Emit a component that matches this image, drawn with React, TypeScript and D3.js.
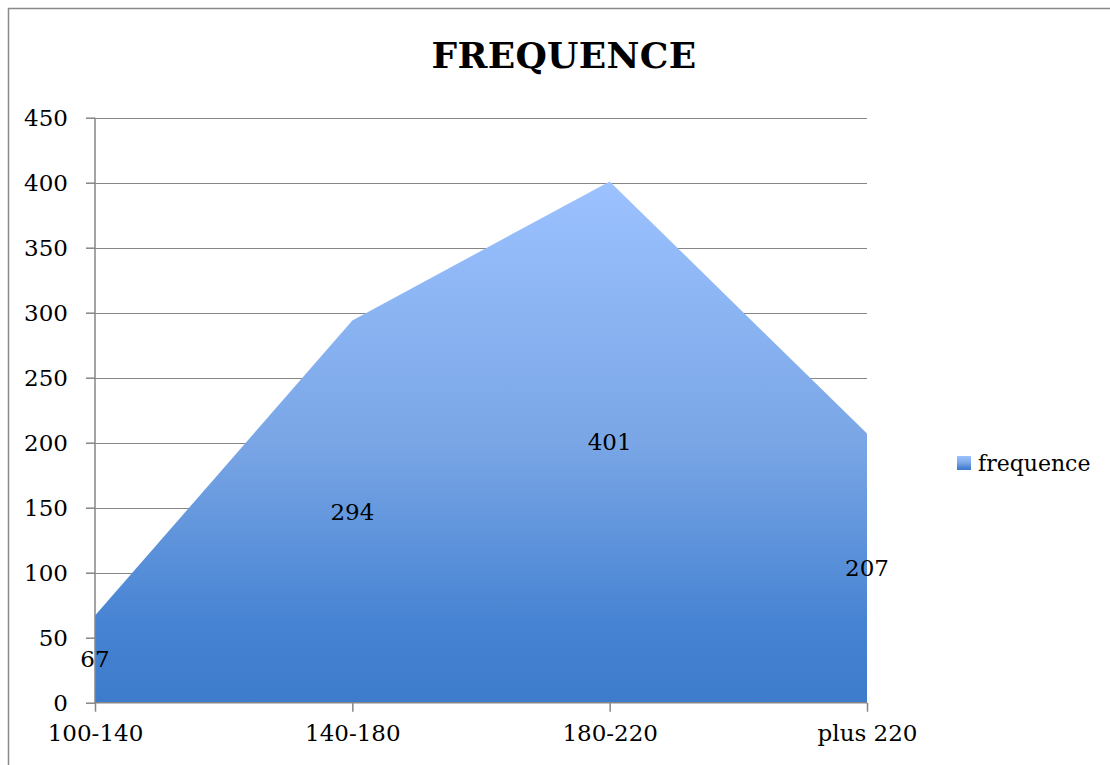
import React, { useEffect, useRef } from 'react';
import * as d3 from 'd3';

const categories = ['100-140', '140-180', '180-220', 'plus 220'];
const values = [67, 294, 401, 207];
const yTicks = [0, 50, 100, 150, 200, 250, 300, 350, 400, 450];
const seriesName = 'frequence';
const chartTitle = 'FREQUENCE';

export default function App() {
  const svgRef = useRef<SVGSVGElement>(null);

  useEffect(() => {
    const svg = d3.select(svgRef.current);
    svg.selectAll('*').remove();

    const W = 1110;
    const H = 765;
    const left = 95;
    const right = 867;
    const top = 117.7;
    const bottom = 702.7;
    const font = '"DejaVu Serif", Cambria, serif';

    svg.attr('width', W).attr('height', H);

    // dégradé de la zone
    const defs = svg.append('defs');
    const grad = defs
      .append('linearGradient')
      .attr('id', 'areaGrad')
      .attr('x1', 0)
      .attr('y1', 0)
      .attr('x2', 0)
      .attr('y2', 1);
    grad.append('stop').attr('offset', '0%').attr('stop-color', '#9cc2ff');
    grad.append('stop').attr('offset', '50%').attr('stop-color', '#7aa6e6');
    grad.append('stop').attr('offset', '85%').attr('stop-color', '#4683d2');
    grad.append('stop').attr('offset', '100%').attr('stop-color', '#3d7bcb');

    // cadre
    svg
      .append('rect')
      .attr('x', 8.5)
      .attr('y', 8.5)
      .attr('width', W + 40)
      .attr('height', H + 40)
      .attr('fill', 'white')
      .attr('stroke', '#8a8a8a')
      .attr('stroke-width', 1.5);

    const x = d3
      .scalePoint<string>()
      .domain(categories)
      .range([left, right]);

    const y = d3.scaleLinear().domain([0, 450]).range([bottom, top]);

    // grille
    svg
      .append('g')
      .selectAll('line')
      .data(yTicks.filter(d => d > 0))
      .enter()
      .append('line')
      .attr('x1', left)
      .attr('x2', right)
      .attr('y1', d => Math.round(y(d)) + 0.5)
      .attr('y2', d => Math.round(y(d)) + 0.5)
      .attr('stroke', '#868686')
      .attr('stroke-width', 1.2);

    // zone
    const area = d3
      .area<number>()
      .x((_, i) => x(categories[i]) as number)
      .y0(y(0))
      .y1(d => y(d));

    svg
      .append('path')
      .datum(values)
      .attr('d', area)
      .attr('fill', 'url(#areaGrad)');

    // axes
    const yAxis = svg
      .append('g')
      .attr('transform', `translate(${left},0)`)
      .call(
        d3
          .axisLeft(y)
          .tickValues(yTicks)
          .tickSize(9)
          .tickPadding(18)
          .tickFormat(d3.format('d'))
      );

    const xAxis = svg
      .append('g')
      .attr('transform', `translate(0,${bottom})`)
      .call(d3.axisBottom(x).tickSize(9).tickPadding(13));

    [yAxis, xAxis].forEach(ax => {
      ax.select('.domain').attr('stroke', '#868686').attr('stroke-width', 1.5);
      ax.selectAll('.tick line').attr('stroke', '#868686').attr('stroke-width', 1.5);
      ax.selectAll('.tick text')
        .attr('fill', '#000')
        .style('font-family', font)
        .style('font-size', '23px');
    });
    yAxis.select('.domain').attr('d', `M0,${top}V${bottom}`);
    xAxis.select('.domain').attr('d', `M${left},0H${right}`);

    // étiquettes de données
    svg
      .append('g')
      .selectAll('text')
      .data(values)
      .enter()
      .append('text')
      .attr('x', (_, i) => x(categories[i]) as number)
      .attr('y', d => y(d / 2))
      .attr('dy', '0.35em')
      .attr('text-anchor', 'middle')
      .style('font-family', font)
      .style('font-size', '23px')
      .text(d => d);

    // titre
    svg
      .append('text')
      .attr('x', 564)
      .attr('y', 68)
      .attr('text-anchor', 'middle')
      .style('font-family', font)
      .style('font-size', '36px')
      .style('font-weight', 'bold')
      .style('letter-spacing', '0.3px')
      .text(chartTitle);

    // légende
    const lg = svg.append('g').attr('transform', 'translate(957,456)');
    lg.append('rect')
      .attr('width', 14)
      .attr('height', 14)
      .attr('fill', 'url(#areaGrad)');
    lg.append('text')
      .attr('x', 21)
      .attr('y', 7)
      .attr('dy', '0.35em')
      .style('font-family', font)
      .style('font-size', '22px')
      .text(seriesName);
  }, []);

  return (
    <svg
      ref={svgRef}
      style={{ position: 'absolute', left: 0, top: 0, display: 'block', overflow: 'hidden' }}
    />
  );
}
